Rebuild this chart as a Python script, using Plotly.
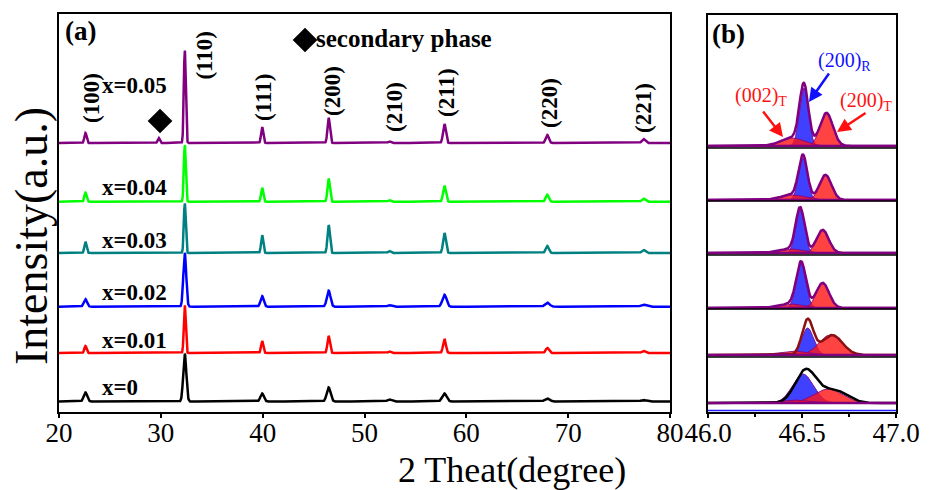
import numpy as np
import plotly.graph_objects as go

# ---------------- data ----------------
SAMPLES = ["x=0", "x=0.01", "x=0.02", "x=0.03", "x=0.04", "x=0.05"]
COLORS = ["#000000", "#FF0000", "#0000FF", "#008080", "#00FF00", "#800080"]

# (a) full XRD patterns
HKL = ["(100)", "(110)", "(111)", "(200)", "(210)", "(211)", "(220)", "(221)"]
PEAK_POS = [22.6, 32.35, 39.95, 46.48, 52.45, 57.85, 67.95, 77.4]
PEAK_FWHM = [0.25, 0.22, 0.25, 0.28, 0.30, 0.32, 0.36, 0.40]
HEIGHTS = [
    [9.0, 48, 8.0, 14, 2.0, 8.0, 3.0, 1.5],    # x=0
    [7.0, 48, 12, 17, 1.5, 14, 5.0, 2.0],      # x=0.01
    [7.5, 54, 10.5, 16, 1.5, 12, 4.0, 2.0],    # x=0.02
    [11, 50, 18, 28, 2.0, 20, 7.0, 3.0],       # x=0.03
    [9.0, 57, 14, 23, 1.5, 16, 7.0, 3.0],      # x=0.04
    [10, 93, 16, 25, 1.5, 19, 8.0, 4.0],       # x=0.05
]
WIDTH_SCALE = [1.6, 1.0, 1.5, 1.0, 1.0, 1.0]
SECONDARY_POS = 29.8
SECONDARY_H = [0, 0, 0, 0, 0, 5]
OFFSETS_A = [10.5, 59, 105.3, 159, 210.3, 269]

# Miller-index label placement (2theta, height)
HKL_LABEL_X = [23.14, 34.2, 40.03, 46.81, 52.90, 58.0, 68.12, 77.35]
HKL_LABEL_Y = [314, 357, 315, 321, 305, 320, 309, 304]
SAMPLE_LABEL_Y = [25, 72, 120, 172, 225, 327]

# (b) fitted (200) region: (centre, height, fwhm)
R200 = [(46.505, 29, 0.13), (46.53, 27, 0.075), (46.495, 44, 0.06),
        (46.49, 43, 0.055), (46.505, 42, 0.055), (46.51, 58, 0.055)]
T200 = [(46.64, 14, 0.18), (46.65, 20, 0.14), (46.61, 25, 0.08),
        (46.61, 23, 0.075), (46.625, 25, 0.075), (46.63, 33, 0.08)]
T002 = [(46.45, 3, 0.20), (46.45, 4, 0.18), (46.44, 4, 0.15),
        (46.44, 4, 0.15), (46.45, 5, 0.15), (46.45, 8, 0.15)]
# measured envelopes where they differ from the component sum
OBSERVED = {
    0: [(46.52, 33, 0.13), (46.67, 13, 0.16)],
    1: [(46.53, 35, 0.07), (46.66, 20, 0.13)],
}
ENV_COLORS = ["#000000", "#8B1010", "#800080", "#800080", "#800080", "#800080"]
OFFSETS_B = [9, 57, 104, 159, 212, 266]
SEPARATORS_B = [55, 103, 157, 211, 264]

FONT = "Liberation Serif"
W, H = 932, 490


def gauss(x, c, h, fwhm):
    return h * np.exp(-4 * np.log(2) * (x - c) ** 2 / fwhm ** 2)


fig = go.Figure()

# ---------------- panel (a) ----------------
tt = np.arange(20, 80.0001, 0.02)
for i, name in enumerate(SAMPLES):
    y = np.zeros_like(tt)
    for p, h, w in zip(PEAK_POS, HEIGHTS[i], PEAK_FWHM):
        y += gauss(tt, p, h, w * WIDTH_SCALE[i])
    y += gauss(tt, SECONDARY_POS, SECONDARY_H[i], 0.25)
    fig.add_trace(go.Scatter(x=tt, y=y + OFFSETS_A[i], mode="lines",
                             line=dict(color=COLORS[i], width=2.5),
                             xaxis="x", yaxis="y", name=name,
                             hoverinfo="skip"))

# secondary-phase marker above the x=0.05 pattern and its key
fig.add_trace(go.Scatter(x=[SECONDARY_POS + 0.12, 44.16], y=[291, 372],
                         mode="markers",
                         marker=dict(symbol="diamond", size=19, color="black"),
                         xaxis="x", yaxis="y", hoverinfo="skip"))

annotations = []
for lab, lx, ly in zip(HKL, HKL_LABEL_X, HKL_LABEL_Y):
    annotations.append(dict(x=lx, y=ly, xref="x", yref="y", text="<b>%s</b>" % lab,
                            textangle=-90, showarrow=False,
                            xanchor="center", yanchor="middle",
                            font=dict(family=FONT, size=23, color="black")))
for name, ly in zip(SAMPLES, SAMPLE_LABEL_Y):
    annotations.append(dict(x=24.03, y=ly, xref="x", yref="y", text="<b>%s</b>" % name,
                            xanchor="left", yanchor="middle", showarrow=False,
                            font=dict(family=FONT, size=23, color="black")))
annotations.append(dict(x=45.0, y=374, xref="x", yref="y", text="<b>secondary phase</b>",
                        xanchor="left", yanchor="middle", showarrow=False,
                        font=dict(family=FONT, size=25, color="black")))

# ---------------- panel (b) ----------------
xb = np.arange(46.0, 47.0001, 0.002)


def filled(x, base, prof, color):
    return go.Scatter(x=np.concatenate([x, x[::-1]]),
                      y=np.concatenate([base + prof, np.full_like(x, base)]),
                      fill="toself", fillcolor=color, mode="lines",
                      line=dict(color="rgba(128,0,128,0.85)", width=1),
                      xaxis="x2", yaxis="y2", hoverinfo="skip")


for i in range(len(SAMPLES)):
    base = OFFSETS_B[i]
    pr = gauss(xb, *R200[i])
    pt = gauss(xb, *T200[i])
    p2 = gauss(xb, *T002[i])
    fig.add_trace(filled(xb, base, pr, "rgba(30,30,255,0.85)"))
    fig.add_trace(filled(xb, base, pt, "rgba(255,20,20,0.8)"))
    fig.add_trace(filled(xb, base, p2, "rgba(255,20,20,0.8)"))
    if i in OBSERVED:
        env = sum(gauss(xb, *pk) for pk in OBSERVED[i])
    else:
        env = pr + pt + p2
    fig.add_trace(go.Scatter(x=xb, y=env + base, mode="lines",
                             line=dict(color=ENV_COLORS[i], width=2.5),
                             xaxis="x2", yaxis="y2", hoverinfo="skip"))
    fig.add_trace(go.Scatter(x=[46.0, 47.0], y=[base, base], mode="lines",
                             line=dict(color="#800080", width=2.5),
                             xaxis="x2", yaxis="y2", hoverinfo="skip"))

shapes = []
for s in SEPARATORS_B:
    shapes.append(dict(type="line", xref="x2 domain", yref="y2", x0=0, x1=1,
                       y0=s, y1=s, line=dict(color="black", width=1.5)))
shapes.append(dict(type="line", xref="x2 domain", yref="y2", x0=0, x1=1,
                   y0=1.5, y1=1.5, line=dict(color="#2020FF", width=1.5)))

# phase labels and arrows
annotations += [
    dict(x=46.727, y=351, xref="x2", yref="y2", text="(200)<sub>R</sub>",
         xanchor="center", yanchor="middle",
         showarrow=False, font=dict(family=FONT, size=20, color="#1010FF")),
    dict(x=46.282, y=316, xref="x2", yref="y2", text="(002)<sub>T</sub>",
         xanchor="center", yanchor="middle",
         showarrow=False, font=dict(family=FONT, size=20, color="#FF1010")),
    dict(x=46.84, y=311, xref="x2", yref="y2", text="(200)<sub>T</sub>",
         xanchor="center", yanchor="middle",
         showarrow=False, font=dict(family=FONT, size=20, color="#FF1010")),
]
for (hx, hy, tx, ty, col) in [(46.537, 310, 46.649, 340, "#1010FF"),
                              (46.399, 275, 46.287, 302, "#FF1010"),
                              (46.686, 280, 46.846, 300, "#FF1010")]:
    annotations.append(dict(x=hx, y=hy, ax=tx, ay=ty, xref="x2", yref="y2",
                            axref="x2", ayref="y2", text="", showarrow=True,
                            arrowhead=2, arrowsize=1.1, arrowwidth=2.5,
                            arrowcolor=col))

# panel tags and axis titles
annotations += [
    dict(x=80 / W, y=1 - 31 / H, xref="paper", yref="paper", text="<b>(a)</b>",
         xanchor="center", yanchor="middle",
         showarrow=False, font=dict(family=FONT, size=27, color="black")),
    dict(x=728 / W, y=1 - 34 / H, xref="paper", yref="paper", text="<b>(b)</b>",
         xanchor="center", yanchor="middle",
         showarrow=False, font=dict(family=FONT, size=27, color="black")),
    dict(x=512 / W, y=1 - 470 / H, xref="paper", yref="paper", text="2 Theat(degree)",
         xanchor="center", yanchor="middle",
         showarrow=False, font=dict(family=FONT, size=36, color="black")),
    dict(x=31 / W, y=1 - 236 / H, xref="paper", yref="paper", text="Intensity(a.u.)",
         xanchor="center", yanchor="middle", textangle=-90, showarrow=False,
         font=dict(family=FONT, size=46, color="black")),
]

ydom = [1 - 412 / H, 1 - 14 / H]
axis_common = dict(showline=True, linecolor="black", linewidth=2, mirror=True,
                   showgrid=False, zeroline=False, automargin=False)
fig.update_layout(
    width=W, height=H, margin=dict(l=0, r=0, t=0, b=0, autoexpand=False),
    paper_bgcolor="white", plot_bgcolor="white", showlegend=False,
    font=dict(family=FONT, color="black"),
    xaxis=dict(domain=[59 / W, 670 / W], range=[20, 80], tickvals=[20, 30, 40, 50, 60, 70, 80],
               ticks="outside", ticklen=4, tickwidth=1.5, tickcolor="black",
               ticklabelstandoff=-8,
               tickfont=dict(family=FONT, size=27, color="black"), anchor="y", **axis_common),
    yaxis=dict(domain=ydom, range=[0, 398], showticklabels=False, ticks="",
               anchor="x", **axis_common),
    xaxis2=dict(domain=[708 / W, 896 / W], range=[46.0, 47.0], tickvals=[46.0, 46.5, 47.0],
                ticktext=["46.0", "46.5", "47.0"], ticks="outside", ticklen=4,
                tickwidth=1.5, tickcolor="black", ticklabelstandoff=-8,
                minor=dict(tickvals=[46.25, 46.75], ticks="outside", ticklen=3,
                           tickcolor="black"),
                tickfont=dict(family=FONT, size=27, color="black"), anchor="y2", **axis_common),
    yaxis2=dict(domain=[1 - 412 / H, 1 - 15 / H], range=[0, 397], showticklabels=False,
                ticks="", anchor="x2", **axis_common),
    annotations=annotations, shapes=shapes,
)

fig.write_html("out.html")
